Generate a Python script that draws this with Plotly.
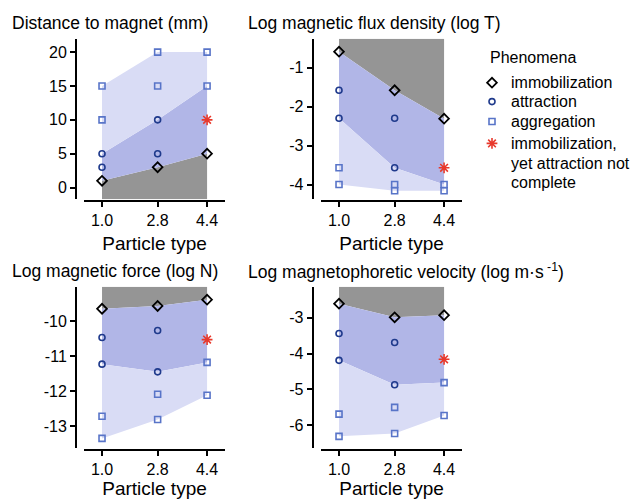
import plotly.graph_objects as go

W, H = 633, 499

types = [1.0, 2.8, 4.4]
type_labels = ["1.0", "2.8", "4.4"]
x_title = "Particle type"

# Panel 1: distance to magnet (mm)
dist_immob = [1, 3, 5]
dist_attr_x = [1.0, 1.0, 2.8, 2.8]
dist_attr_y = [3, 5, 5, 10]
dist_aggr_x = [1.0, 1.0, 2.8, 2.8, 4.4, 4.4]
dist_aggr_y = [10, 15, 15, 20, 15, 20]
dist_star_x = [4.4]
dist_star_y = [10]
dist_ticks = [0, 5, 10, 15, 20]
dist_tick_text = ["0", "5", "10", "15", "20"]

# Panel 2: log magnetic flux density (log T)
flux_immob = [-0.59, -1.58, -2.31]
flux_attr_x = [1.0, 1.0, 2.8, 2.8]
flux_attr_y = [-1.58, -2.30, -2.30, -3.57]
flux_aggr_x = [1.0, 1.0, 2.8, 2.8, 4.4, 4.4]
flux_aggr_y = [-3.57, -4.0, -4.0, -4.16, -4.0, -4.16]
flux_star_x = [4.4]
flux_star_y = [-3.57]
flux_ticks = [-1, -2, -3, -4]
flux_tick_text = ["-1", "-2", "-3", "-4"]

# Panel 3: log magnetic force (log N)
force_immob = [-9.64, -9.56, -9.38]
force_attr_x = [1.0, 1.0, 2.8, 2.8]
force_attr_y = [-10.46, -11.22, -10.26, -11.44]
force_aggr_x = [1.0, 1.0, 2.8, 2.8, 4.4, 4.4]
force_aggr_y = [-12.71, -13.34, -12.08, -12.80, -11.17, -12.11]
force_star_x = [4.4]
force_star_y = [-10.52]
force_ticks = [-10, -11, -12, -13]
force_tick_text = ["-10", "-11", "-12", "-13"]

# Panel 4: log magnetophoretic velocity
vel_immob = [-2.61, -2.99, -2.93]
vel_attr_x = [1.0, 1.0, 2.8, 2.8]
vel_attr_y = [-3.44, -4.19, -3.69, -4.87]
vel_aggr_x = [1.0, 1.0, 2.8, 2.8, 4.4, 4.4]
vel_aggr_y = [-5.69, -6.31, -5.50, -6.23, -4.81, -5.73]
vel_star_x = [4.4]
vel_star_y = [-4.16]
vel_ticks = [-3, -4, -5, -6]
vel_tick_text = ["-3", "-4", "-5", "-6"]

titles = [
    "Distance to magnet (mm)",
    "Log magnetic flux density (log T)",
    "Log magnetic force (log N)",
    "Log magnetophoretic velocity (log m\u00b7s<sup> -1</sup>)",
]
legend_title = "Phenomena"
legend_names = ["immobilization", "attraction", "aggregation",
                ["immobilization,", "yet attraction not", "complete"]]

C_GREY = "#959595"
C_BLUE = "#b1b6e7"
C_LIGHT = "#d9dcf5"
C_IMMOB = "#000000"
C_ATTR = "#1f3a8c"
C_AGGR = "#5874c8"
C_STAR = "#e8392c"
FONT = "Liberation Sans"

MK = [
    dict(symbol="diamond-open", size=7.5, color=C_IMMOB, line=dict(width=1.8, color=C_IMMOB)),
    dict(symbol="circle-open", size=6, color=C_ATTR, line=dict(width=1.6, color=C_ATTR)),
    dict(symbol="square-open", size=6, color=C_AGGR, line=dict(width=1.6, color=C_AGGR)),
    dict(symbol="asterisk-open", size=9, color=C_STAR, line=dict(width=1.6, color=C_STAR)),
]

# layout geometry (pixels)
x_left = [(84, 225, 76), (321, 462, 312.7)]
y_top = [(39, 200, 202), (288, 450, 452)]
y_ranges = [(-1.72, 21.96), (-4.376, -0.26), (-13.62, -9.014), (-6.64, -2.14)]
x_range = (0.417, 4.98)

panels = [
    (dist_immob, dist_attr_x, dist_attr_y, dist_aggr_x, dist_aggr_y, dist_star_x, dist_star_y, dist_ticks, dist_tick_text, 1),
    (flux_immob, flux_attr_x, flux_attr_y, flux_aggr_x, flux_aggr_y, flux_star_x, flux_star_y, flux_ticks, flux_tick_text, -1),
    (force_immob, force_attr_x, force_attr_y, force_aggr_x, force_aggr_y, force_star_x, force_star_y, force_ticks, force_tick_text, -1),
    (vel_immob, vel_attr_x, vel_attr_y, vel_aggr_x, vel_aggr_y, vel_star_x, vel_star_y, vel_ticks, vel_tick_text, -1),
]

fig = go.Figure()
layout = {}
annotations = []

for i, (immob, ax_, ay_, gx_, gy_, sx_, sy_, yt, ytt, direction) in enumerate(panels):
    row, col = divmod(i, 2)
    xl, xr, ylinex = x_left[col]
    yt_px, yb_px, xliney = y_top[row]
    suffix = "" if i == 0 else str(i + 1)
    xa, ya = "x" + suffix, "y" + suffix
    lo, hi = y_ranges[i]

    ext = max if direction > 0 else min
    near = min if direction > 0 else max
    blue_edge, light_edge = [], []
    for t in types:
        av = [v for xx, v in zip(ax_, ay_) if xx == t]
        gv = [v for xx, v in zip(gx_, gy_) if xx == t]
        blue_edge.append(ext(av) if av else near(gv))
        light_edge.append(ext(gv))
    grey_edge = [lo if direction > 0 else hi] * len(types)

    def poly(a, b, color):
        fig.add_trace(go.Scatter(
            x=types + types[::-1], y=a + b[::-1], fill="toself", fillcolor=color,
            mode="lines", line=dict(width=0), hoverinfo="skip", showlegend=False,
            xaxis=xa, yaxis=ya))

    poly(grey_edge, immob, C_GREY)
    poly(immob, blue_edge, C_BLUE)
    poly(blue_edge, light_edge, C_LIGHT)

    for (xs, ys), mk in zip([(types, immob), (ax_, ay_), (gx_, gy_), (sx_, sy_)], MK):
        fig.add_trace(go.Scatter(x=xs, y=ys, mode="markers", marker=mk,
                                 showlegend=False, xaxis=xa, yaxis=ya))

    layout["xaxis" + suffix] = dict(
        domain=[xl / W, xr / W], range=list(x_range), anchor="free", position=1 - xliney / H,
        tickvals=types, ticktext=type_labels, showgrid=False, zeroline=False,
        showline=True, linewidth=2, linecolor="black", ticks="outside", ticklen=5,
        tickwidth=1.5, tickcolor="black", tickfont=dict(size=16, color="black"),
        title=dict(text=x_title, font=dict(size=19, color="black"), standoff=7),
    )
    layout["yaxis" + suffix] = dict(
        domain=[1 - yb_px / H, 1 - yt_px / H], range=[lo, hi], anchor="free", position=ylinex / W,
        tickvals=yt, ticktext=ytt, showgrid=False, zeroline=False,
        showline=True, linewidth=2, linecolor="black", ticks="outside", ticklen=5,
        tickwidth=1.5, tickcolor="black", tickfont=dict(size=16, color="black"),
    )
    annotations.append(dict(
        text=titles[i], x=(10 if col == 0 else 246) / W, y=1 - (23 if row == 0 else 272) / H,
        xref="paper", yref="paper", xanchor="left", yanchor="middle", showarrow=False,
        font=dict(size=17.5, color="black")))

# Legend (keys on a hidden pixel-scaled overlay axis, labels as annotations)
leg_key_x = 492
leg_text_x = 509
leg_rows = [83, 102, 122, 144]
leg_line_pitch = 19.7
layout["xaxis5"] = dict(domain=[0, 1], range=[0, W], visible=False, fixedrange=True)
layout["yaxis5"] = dict(domain=[0, 1], range=[H, 0], visible=False, fixedrange=True)
for mk, ry in zip(MK, leg_rows):
    fig.add_trace(go.Scatter(x=[leg_key_x], y=[ry], mode="markers", marker=mk,
                             showlegend=False, hoverinfo="skip", xaxis="x5", yaxis="y5"))
annotations.append(dict(text=legend_title, x=488 / W, y=1 - 58 / H, xref="paper", yref="paper",
                        xanchor="left", yanchor="middle", showarrow=False, font=dict(size=16)))
for name, ry in zip(legend_names, leg_rows):
    lines = name if isinstance(name, list) else [name]
    for k, line in enumerate(lines):
        annotations.append(dict(text=line, x=leg_text_x / W, y=1 - (ry + k * leg_line_pitch) / H,
                                xref="paper", yref="paper", xanchor="left", yanchor="middle",
                                showarrow=False, font=dict(size=16)))

fig.update_layout(
    width=W, height=H, margin=dict(l=0, r=0, t=0, b=0),
    paper_bgcolor="white", plot_bgcolor="rgba(0,0,0,0)",
    font=dict(family=FONT, color="black"),
    annotations=annotations, showlegend=False,
    **layout,
)

fig.write_html("out.html", config={"displayModeBar": False},
               post_script="document.body.style.margin='0';document.body.style.overflow='hidden';")
